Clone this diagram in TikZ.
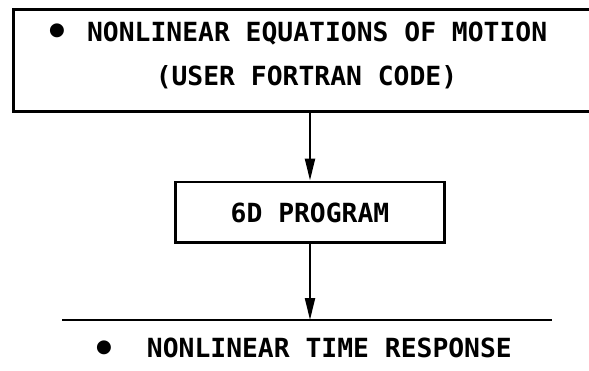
\documentclass[tikz,border=0pt]{standalone}
\usepackage{fontspec}
\newfontfamily\reportfont{DejaVu Sans Mono}
\usetikzlibrary{arrows.meta,positioning}
\newcommand{\blob}{\raisebox{-0.17em}{\scalebox{1.5}{\textbullet}}}
\tikzstyle{block}=[draw,line width=1.7pt,inner sep=0pt,align=center,
  font=\reportfont\bfseries\fontsize{15}{25}\selectfont]
\tikzstyle{label}=[inner sep=0pt,font=\reportfont\bfseries\fontsize{15}{25}\selectfont]
\tikzstyle{flow} = [draw,line width=1.2pt,-{Triangle[length=4.4mm,width=2mm]}]
\tikzstyle{rail} = [draw,line width=1.7pt]

\begin{document}
\begin{tikzpicture}[x=0.02cm,y=-0.02cm]
    % page frame
    \clip (0,0) rectangle (589,371);

    % First the two boxes
    \node[block,minimum width=11.74cm,minimum height=2.06cm,text depth=8pt] (eqs) at (306.5,60.5)
        {\blob\hspace{0.35cm}NONLINEAR EQUATIONS OF MOTION\hspace*{0.4cm}\\(USER FORTRAN CODE)};
    \node[block,minimum width=5.4cm,minimum height=1.22cm] (prog) at (310,212.5) {6D PROGRAM};

    % output line and its label
    \coordinate (railL) at (62,320);
    \coordinate (railR) at (552,320);
    \path[rail] (railL) -- (railR);
    \node[label] (resp) at (302,350) {\blob\hspace{0.62cm}NONLINEAR TIME RESPONSE};

    % Connect them
    \path[flow] (eqs.south -| prog.north) -- (prog.north);
    \path[flow] (prog.south) -- (prog.south |- railL);
\end{tikzpicture}
\end{document}
